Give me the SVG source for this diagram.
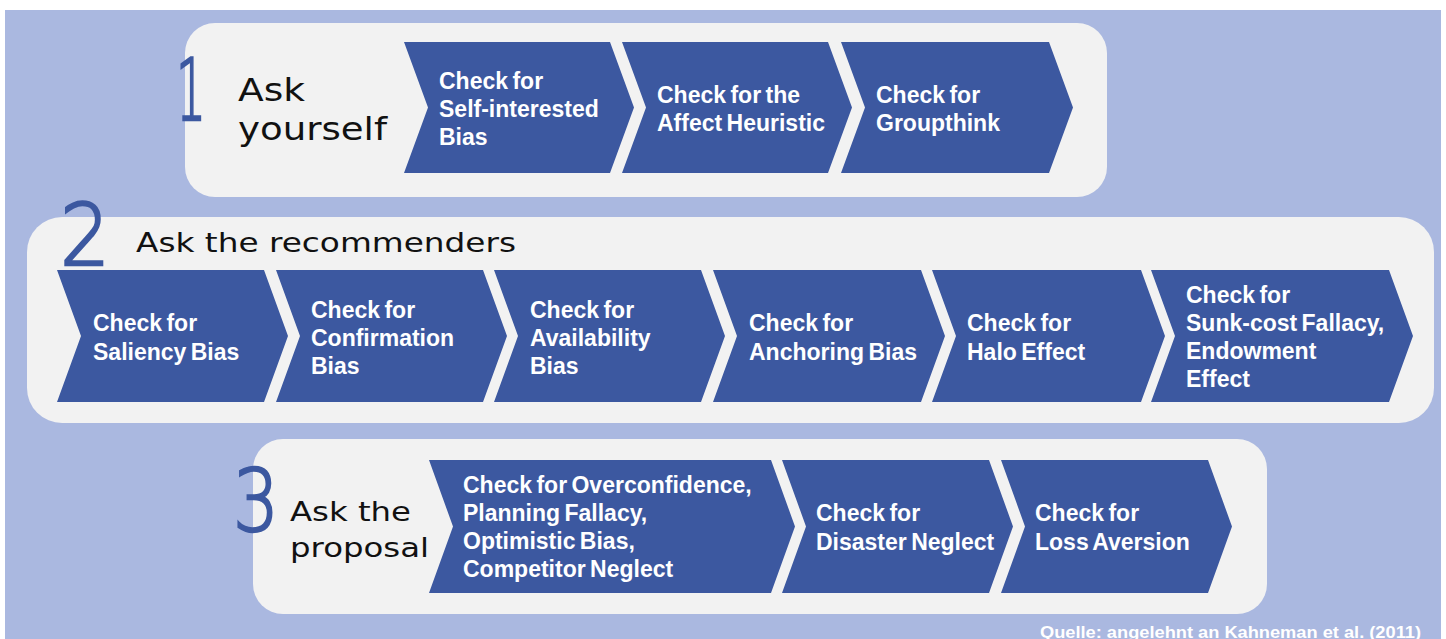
<svg xmlns="http://www.w3.org/2000/svg" width="1446" height="639" viewBox="0 0 1446 639">
<style>
.bg{fill:#AAB8E0}
.panel{fill:#F2F2F2}
.chev{fill:#3C58A0}
.ct{font-family:"Liberation Sans",Arial,sans-serif;font-weight:bold;font-size:23px;fill:#FFFFFF;word-spacing:-2px}
.head{font-family:"DejaVu Sans","Liberation Sans",sans-serif;fill:#111111}
.num{font-family:"DejaVu Sans","Liberation Sans",sans-serif;font-weight:200;font-size:86px;fill:#3C58A0;stroke:#3C58A0;stroke-width:2.5;text-anchor:middle}
.src{font-family:"Liberation Sans",Arial,sans-serif;font-weight:bold;font-size:16px;fill:#FFFFFF}
</style>
<rect class="bg" x="5" y="10" width="1436" height="629"/>

<g id="panel1">
<rect class="panel" x="185" y="23" width="922" height="174" rx="30"/>
<text class="num" x="191" y="120" textLength="30" lengthAdjust="spacingAndGlyphs">1</text>
<text class="head" font-size="32" x="238" y="101" textLength="67" lengthAdjust="spacingAndGlyphs">Ask</text>
<text class="head" font-size="32" x="238" y="140" textLength="149" lengthAdjust="spacingAndGlyphs">yourself</text>
</g>
<g id="c1-1"><polygon class="chev" points="404,42 610,42 634,107.5 610,173 404,173 428,107.5"/>
<text class="ct" x="439" y="89">Check for</text><text class="ct" x="439" y="117">Self-interested</text><text class="ct" x="439" y="145">Bias</text></g>
<g id="c1-2"><polygon class="chev" points="622,42 828,42 852,107.5 828,173 622,173 646,107.5"/>
<text class="ct" x="657" y="103">Check for the</text><text class="ct" x="657" y="131">Affect Heuristic</text></g>
<g id="c1-3"><polygon class="chev" points="841,42 1049,42 1073,107.5 1049,173 841,173 865,107.5"/>
<text class="ct" x="876" y="103">Check for</text><text class="ct" x="876" y="131">Groupthink</text></g>

<g id="panel2">
<rect class="panel" x="27" y="217" width="1407" height="206" rx="35"/>
<text class="num" x="85" y="265" textLength="50" lengthAdjust="spacingAndGlyphs">2</text>
<text class="head" font-size="27" x="136" y="252" textLength="380" lengthAdjust="spacingAndGlyphs">Ask the recommenders</text>
</g>
<g id="c2-1"><polygon class="chev" points="57,270 264,270 288,336 264,402 57,402 81,336"/>
<text class="ct" x="93" y="331">Check for</text><text class="ct" x="93" y="360">Saliency Bias</text></g>
<g id="c2-2"><polygon class="chev" points="276,270 483,270 507,336 483,402 276,402 300,336"/>
<text class="ct" x="311" y="318">Check for</text><text class="ct" x="311" y="346">Confirmation</text><text class="ct" x="311" y="374">Bias</text></g>
<g id="c2-3"><polygon class="chev" points="494,270 701,270 725,336 701,402 494,402 518,336"/>
<text class="ct" x="530" y="318">Check for</text><text class="ct" x="530" y="346">Availability</text><text class="ct" x="530" y="374">Bias</text></g>
<g id="c2-4"><polygon class="chev" points="713,270 921,270 945,336 921,402 713,402 737,336"/>
<text class="ct" x="749" y="331">Check for</text><text class="ct" x="749" y="360">Anchoring Bias</text></g>
<g id="c2-5"><polygon class="chev" points="932,270 1141,270 1165,336 1141,402 932,402 956,336"/>
<text class="ct" x="967" y="331">Check for</text><text class="ct" x="967" y="360">Halo Effect</text></g>
<g id="c2-6"><polygon class="chev" points="1151,270 1389,270 1413,336 1389,402 1151,402 1175,336"/>
<text class="ct" x="1186" y="303">Check for</text><text class="ct" x="1186" y="331">Sunk-cost Fallacy,</text><text class="ct" x="1186" y="359">Endowment</text><text class="ct" x="1186" y="387">Effect</text></g>

<g id="panel3">
<rect class="panel" x="253" y="439" width="1014" height="175" rx="30"/>
<text class="num" x="256" y="531" textLength="46" lengthAdjust="spacingAndGlyphs">3</text>
<text class="head" font-size="26" x="290" y="521" textLength="121" lengthAdjust="spacingAndGlyphs">Ask the</text>
<text class="head" font-size="26" x="290" y="557" textLength="139" lengthAdjust="spacingAndGlyphs">proposal</text>
</g>
<g id="c3-1"><polygon class="chev" points="429,460 771,460 795,526.5 771,593 429,593 453,526.5"/>
<text class="ct" x="463" y="493">Check for Overconfidence,</text><text class="ct" x="463" y="521">Planning Fallacy,</text><text class="ct" x="463" y="549">Optimistic Bias,</text><text class="ct" x="463" y="577">Competitor Neglect</text></g>
<g id="c3-2"><polygon class="chev" points="782,460 989,460 1013,526.5 989,593 782,593 806,526.5"/>
<text class="ct" x="816" y="521">Check for</text><text class="ct" x="816" y="550">Disaster Neglect</text></g>
<g id="c3-3"><polygon class="chev" points="1001,460 1208,460 1232,526.5 1208,593 1001,593 1025,526.5"/>
<text class="ct" x="1035" y="521">Check for</text><text class="ct" x="1035" y="550">Loss Aversion</text></g>

<g id="connectors"/>
<text class="src" x="1040" y="638" textLength="381" lengthAdjust="spacingAndGlyphs">Quelle: angelehnt an Kahneman et al. (2011)</text>
</svg>
